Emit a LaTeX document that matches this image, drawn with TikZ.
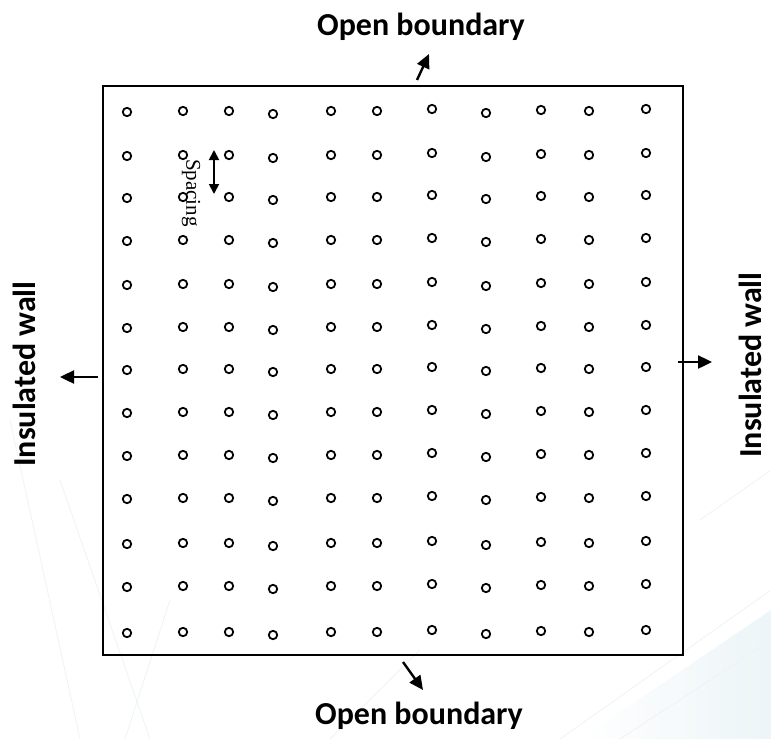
\documentclass[tikz,border=0pt]{standalone}
\usepackage{fontspec}
\setmainfont{Carlito}
\newfontfamily\serifface{Liberation Serif}
\usetikzlibrary{arrows.meta}
\definecolor{faint}{HTML}{EDF3F6}
\definecolor{wash}{HTML}{D5E8EE}
\begin{document}
\begin{tikzpicture}[x=1pt,y=-1pt,
  pore/.style={circle,draw=black,line width=1.8pt,minimum size=8.4pt,inner sep=0pt},
  flow/.style={line width=2.4pt,-{Triangle[length=14pt,width=13pt]}},
  label/.style={font=\fontsize{32}{36}\selectfont\bfseries,inner sep=0pt},
  wm/.style={draw=faint,line width=0.8pt}]
\useasboundingbox (0,0) rectangle (771,739);
% faint background watermark
\shade[left color=white,right color=wash,opacity=0.45] (580,739) -- (771,610) -- (771,739) -- cycle;
\draw[wm] (10,420) -- (80,739);
\draw[wm] (60,480) -- (150,739);
\draw[wm] (170,600) -- (125,739);
\draw[wm] (330,739) -- (420,650);
\draw[wm] (560,739) -- (771,590);
\draw[wm] (620,739) -- (771,640);
\draw[wm] (700,520) -- (771,470);
% domain
\node[draw,line width=1.6pt,minimum width=580pt,minimum height=569pt,inner sep=0pt] (box) at (393,370.5) {};
% grid of points
\foreach \cx/\dy [count=\i] in {127/0,183/-1,229/-1,273/2,331/-1,377/-1,432/-3,486/1,541/-2,589/-1,646/-3}{
  \foreach \cy [count=\j] in {112,156,198,241,285,328,370,413,456,499,544,587,633}{
    \node[pore] (p\i-\j) at (\cx,\cy+\dy) {};
  }
}
% spacing marker
\coordinate (s1) at (214,150);
\coordinate (s2) at (214,194);
\draw[line width=1.8pt,{Triangle[length=10pt,width=10pt]}-{Triangle[length=10pt,width=10pt]}] (s1) -- (s2);
\node[font=\serifface\fontsize{21}{22}\selectfont,rotate=-90] (spc) at (191,193) {Spacing};
% boundary arrows
\coordinate (ta) at (417,80); \coordinate (tb) at (429,54);
\coordinate (ba) at (403,662); \coordinate (bb) at (423,690);
\coordinate (la) at (98,377); \coordinate (lb) at (60,377);
\coordinate (ra) at (678,362); \coordinate (rb) at (712,362);
\draw[flow] (ta) -- (tb);
\draw[flow] (ba) -- (bb);
\draw[flow] (la) -- (lb);
\draw[flow] (ra) -- (rb);
% boundary labels
\node[label] (top) at (421,27) {Open boundary};
\node[label] (bot) at (419,716) {Open boundary};
\node[label,rotate=90] (lft) at (24,374) {Insulated wall};
\node[label,rotate=90] (rgt) at (750,365) {Insulated wall};
\end{tikzpicture}
\end{document}
